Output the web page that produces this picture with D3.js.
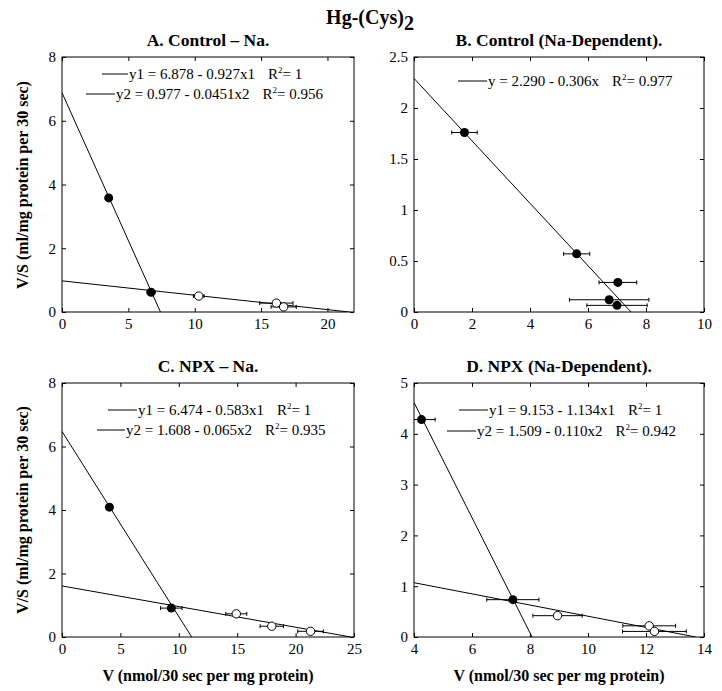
<!DOCTYPE html>
<html>
<head>
<meta charset="utf-8">
<script src="https://cdn.jsdelivr.net/npm/d3@7"></script>
<style>
  body { margin: 0; background: #fff; }
  text { font-family: "Liberation Serif", "Times New Roman", serif; fill: #000; }
</style>
</head>
<body>
<script>
// data: [V, V/S, x error]
var aFilled = [[3.52, 3.58, 0.2], [6.71, 0.62, 0.3]];
var aOpen   = [[10.3, 0.50, 0.4], [16.15, 0.28, 1.25], [16.7, 0.16, 0.95]];
var aFits   = [[6.878, 0.927], [0.977, 0.0451]];
var aLegend = [["y1 = 6.878 - 0.927x1", "1"], ["y2 = 0.977 - 0.0451x2", "0.956"]];

var bFilled = [[1.74, 1.76, 0.44], [5.61, 0.57, 0.45], [7.03, 0.29, 0.65], [6.73, 0.12, 1.37], [7.0, 0.065, 1.04]];
var bOpen   = [];
var bFits   = [[2.290, 0.306]];
var bLegend = [["y = 2.290 - 0.306x", "0.977"]];

var cFilled = [[4.06, 4.09, 0.2], [9.36, 0.91, 0.92]];
var cOpen   = [[14.92, 0.73, 0.9], [17.96, 0.34, 1.0], [21.28, 0.18, 1.1]];
var cFits   = [[6.474, 0.583], [1.608, 0.065]];
var cLegend = [["y1 = 6.474 - 0.583x1", "1"], ["y2 = 1.608 - 0.065x2", "0.935"]];

var dFilled = [[4.26, 4.28, 0.47], [7.41, 0.735, 0.9]];
var dOpen   = [[8.95, 0.42, 0.85], [12.11, 0.22, 0.91], [12.29, 0.11, 1.1]];
var dFits   = [[9.153, 1.134], [1.509, 0.110]];
var dLegend = [["y1 = 9.153 - 1.134x1", "1"], ["y2 = 1.509 - 0.110x2", "0.942"]];

var titles = ["A. Control \u2013 Na.", "B. Control (Na-Dependent).", "C. NPX \u2013 Na.", "D. NPX (Na-Dependent)."];
var xTickSets = [[0, 5, 10, 15, 20], [0, 2, 4, 6, 8, 10], [0, 5, 10, 15, 20, 25], [4, 6, 8, 10, 12, 14]];
var yTickSets = [[0, 2, 4, 6, 8], [0, 0.5, 1, 1.5, 2, 2.5], [0, 2, 4, 6, 8], [0, 1, 2, 3, 4, 5]];
var xDomains = [[0, 22], [0, 10], [0, 25], [4, 14]];
var yDomains = [[0, 8], [0, 2.5], [0, 8], [0, 5]];

var W = 722, H = 691;
var svg = d3.select("body").append("svg").attr("width", W).attr("height", H);
svg.append("rect").attr("width", W).attr("height", H).attr("fill", "#fff");

// main title
var tt = svg.append("text").attr("x", 370).attr("y", 24).attr("text-anchor", "middle")
  .style("font-size", "20px").style("font-weight", "bold").text("Hg-(Cys)");
tt.append("tspan").attr("dy", 6).style("font-size", "20px").text("2");

var layout = [
  { left: 62, top: 57, w: 292, h: 255, legX: [[102, 128], [86, 115]], legY: [74, 94] },
  { left: 414, top: 57, w: 290, h: 255, legX: [[458, 487]], legY: [81] },
  { left: 62, top: 383, w: 292, h: 254, legX: [[108, 137], [97, 125]], legY: [410, 430] },
  { left: 414, top: 383, w: 290, h: 254, legX: [[459, 488], [447, 476]], legY: [410, 431] }
];

var panelData = [
  [aFilled, aOpen, aFits, aLegend],
  [bFilled, bOpen, bFits, bLegend],
  [cFilled, cOpen, cFits, cLegend],
  [dFilled, dOpen, dFits, dLegend]
];

layout.forEach(function(L, i) {
  var filled = panelData[i][0], open = panelData[i][1], fits = panelData[i][2], legend = panelData[i][3];
  var x = d3.scaleLinear().domain(xDomains[i]).range([L.left, L.left + L.w]);
  var y = d3.scaleLinear().domain(yDomains[i]).range([L.top + L.h, L.top]);
  var g = svg.append("g");

  var clipId = "clip" + i;
  svg.append("clipPath").attr("id", clipId).append("rect")
    .attr("x", L.left).attr("y", L.top).attr("width", L.w).attr("height", L.h);

  // axes, ticks inward on all four sides
  var fmt = d3.format("");
  g.append("g").attr("transform", "translate(0," + (L.top + L.h) + ")")
    .call(d3.axisBottom(x).tickValues(xTickSets[i]).tickSizeInner(-4).tickSizeOuter(0).tickPadding(6).tickFormat(fmt));
  g.append("g").attr("transform", "translate(0," + L.top + ")")
    .call(d3.axisTop(x).tickValues(xTickSets[i]).tickSizeInner(-4).tickSizeOuter(0).tickFormat(""));
  g.append("g").attr("transform", "translate(" + L.left + ",0)")
    .call(d3.axisLeft(y).tickValues(yTickSets[i]).tickSizeInner(-4).tickSizeOuter(0).tickPadding(6).tickFormat(fmt));
  g.append("g").attr("transform", "translate(" + (L.left + L.w) + ",0)")
    .call(d3.axisRight(y).tickValues(yTickSets[i]).tickSizeInner(-4).tickSizeOuter(0).tickFormat(""));
  g.selectAll(".domain").remove();
  g.selectAll(".tick text").style("font-size", "15px").style("font-family", "Liberation Serif");
  g.append("rect").attr("x", L.left).attr("y", L.top).attr("width", L.w).attr("height", L.h)
    .attr("fill", "none").attr("stroke", "#000").attr("stroke-width", 1);

  // title
  svg.append("text").attr("x", L.left + L.w / 2).attr("y", L.top - 11).attr("text-anchor", "middle")
    .style("font-size", "17.5px").style("font-weight", "bold").text(titles[i]);

  var plot = svg.append("g").attr("clip-path", "url(#" + clipId + ")");

  // fit lines
  fits.forEach(function(f) {
    var x0 = xDomains[i][0], x1 = f[0] / f[1];
    plot.append("path")
      .attr("d", d3.line().x(function(d) { return x(d); }).y(function(d) { return y(f[0] - f[1] * d); })([x0, x1]))
      .attr("fill", "none").attr("stroke", "#000").attr("stroke-width", 1);
  });

  // error bars
  var pts = filled.concat(open);
  pts.forEach(function(p) {
    var yy = y(p[1]);
    plot.append("line").attr("x1", x(p[0] - p[2])).attr("x2", x(p[0] + p[2])).attr("y1", yy).attr("y2", yy)
      .attr("stroke", "#000").attr("stroke-width", 1);
    [p[0] - p[2], p[0] + p[2]].forEach(function(e) {
      plot.append("line").attr("x1", x(e)).attr("x2", x(e)).attr("y1", yy - 2).attr("y2", yy + 2)
        .attr("stroke", "#000").attr("stroke-width", 1);
    });
  });

  plot.selectAll("circle.f").data(filled).enter().append("circle")
    .attr("cx", function(d) { return x(d[0]); }).attr("cy", function(d) { return y(d[1]); })
    .attr("r", 4.5).attr("fill", "#000");
  plot.selectAll("circle.o").data(open).enter().append("circle")
    .attr("cx", function(d) { return x(d[0]); }).attr("cy", function(d) { return y(d[1]); })
    .attr("r", 4.2).attr("fill", "#fff").attr("stroke", "#000").attr("stroke-width", 1);

  // legend
  legend.forEach(function(e, k) {
    var lx = L.legX[k], ly = L.legY[k];
    svg.append("line").attr("x1", lx[0]).attr("x2", lx[1]).attr("y1", ly).attr("y2", ly)
      .attr("stroke", "#000").attr("stroke-width", 1);
    var t = svg.append("text").attr("x", lx[1] + 1).attr("y", ly + 5).style("font-size", "15px");
    t.append("tspan").text(e[0]);
    t.append("tspan").attr("dx", 13).text("R");
    t.append("tspan").attr("dy", -6).style("font-size", "9px").text("2");
    t.append("tspan").attr("dy", 6).text("= " + e[1]);
  });
});

// axis labels
[[28, 185], [28, 510]].forEach(function(p) {
  svg.append("text").attr("transform", "translate(" + p[0] + "," + p[1] + ")rotate(-90)")
    .attr("text-anchor", "middle").style("font-size", "16px").style("font-weight", "bold")
    .text("V/S (ml/mg protein per 30 sec)");
});
[208, 559].forEach(function(cx) {
  svg.append("text").attr("x", cx).attr("y", 681).attr("text-anchor", "middle")
    .style("font-size", "16px").style("font-weight", "bold").text("V (nmol/30 sec per mg protein)");
});
</script>
</body>
</html>
